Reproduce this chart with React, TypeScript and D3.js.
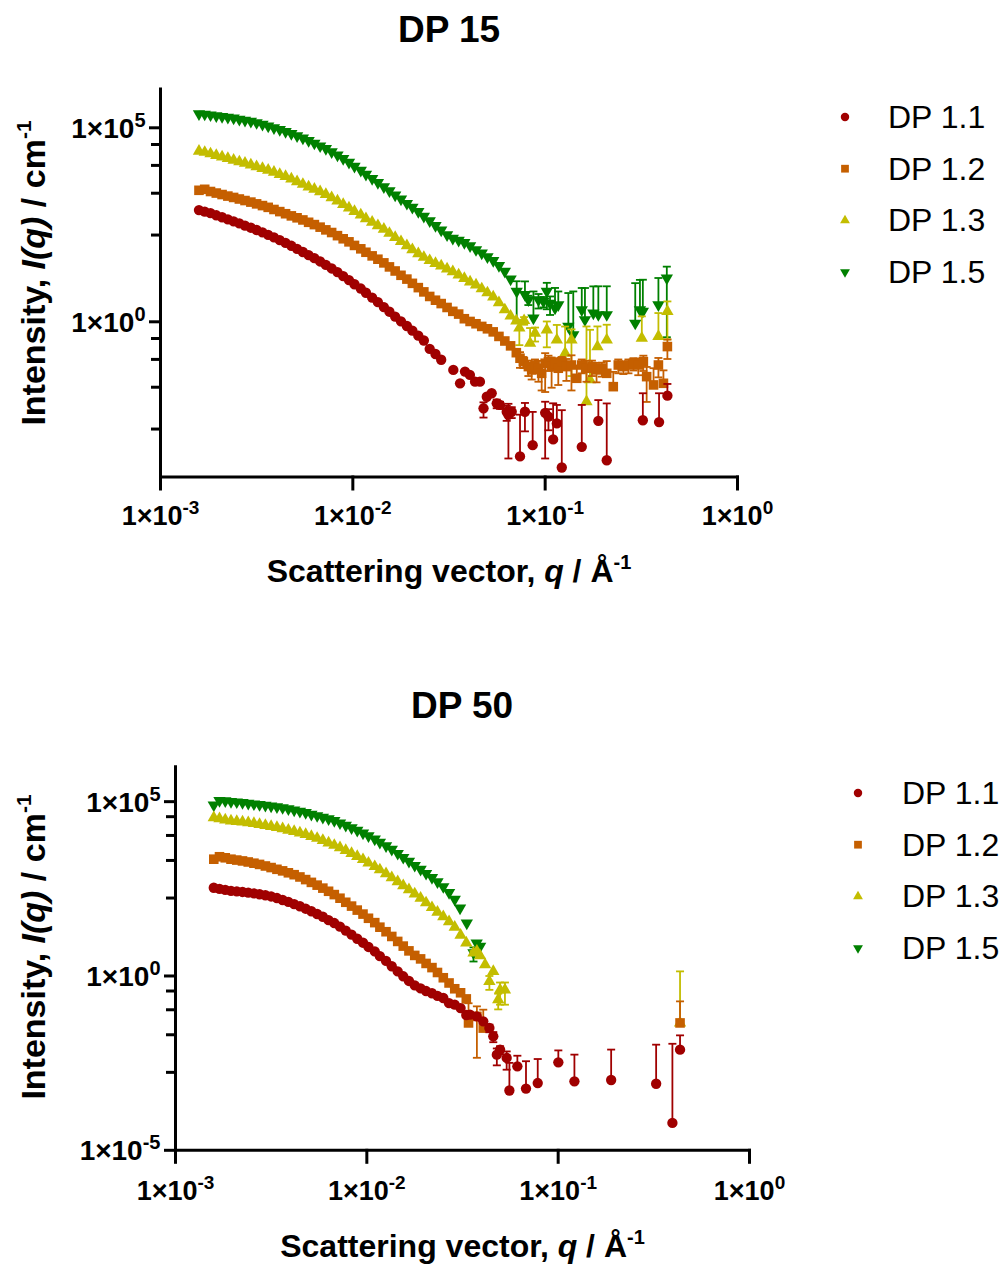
import React from "react";
import * as d3 from "d3";

const FONT = "'Liberation Sans', Arial, Helvetica, sans-serif";

const seriesNames = ["DP 1.1", "DP 1.2", "DP 1.3", "DP 1.5"];
const seriesColors = ["#A00000", "#C55F00", "#C3BD00", "#008000"];
const seriesShapes = ["circle", "square", "triangleUp", "triangleDown"];

// shared q grid (Å^-1) of the densely sampled part of every curve
const qGrid = [
  0.001585, 0.001698, 0.00182, 0.00195, 0.00209, 0.00224, 0.0024, 0.00257, 0.00275, 0.00295,
  0.00316, 0.00339, 0.00363, 0.00389, 0.00417, 0.00447, 0.00479, 0.00513, 0.0055, 0.00589,
  0.00631, 0.00676, 0.00724, 0.00776, 0.00832, 0.00891, 0.00955, 0.0102, 0.011, 0.0117,
  0.0126, 0.0135, 0.0145, 0.0155, 0.0166, 0.0178, 0.0191, 0.0204, 0.0219, 0.0234,
  0.0251, 0.0269, 0.0288, 0.0309, 0.0331, 0.0355, 0.038, 0.0407, 0.0437, 0.0468,
  0.0501, 0.0537, 0.0575, 0.0617, 0.0661, 0.0708,
];

// ---------- DP 15 ----------
const dp15_11 = [
  759, 692, 631, 556, 495, 437, 389, 343, 302, 266,
  232, 202, 174, 150, 127, 108, 91, 76, 63, 52.5,
  43.6, 35.9, 29.2, 23.7, 19.1, 15.1, 11.9, 9.3, 7.2, 5.6,
  4.2, 3.2, 2.4, 1.82, 1.36, 1.03, 0.78, 0.59, 0.44, 0.33,
  0.2, 0.148, 0.105,
];
const dp15_12 = [
  2450, 2600, 2280, 2080, 1905, 1738, 1603, 1462, 1334, 1216,
  1096, 989, 891, 785, 692, 610, 537, 479, 422, 367,
  320, 275, 234, 200, 166, 138, 115, 93, 76, 62,
  50, 41, 33, 26, 20.4, 15.8, 12.6, 9.8, 7.6, 5.9,
  4.5, 3.6, 2.95, 2.34, 1.86, 1.58, 1.2, 1.02, 0.89, 0.76,
  0.66, 0.55, 0.42, 0.32, 0.24, 0.16,
];
const dp15_13 = [
  2.51e4, 2.34e4, 2.14e4, 1.95e4, 1.78e4, 1.62e4, 1.46e4, 1.33e4, 1.22e4, 1.11e4,
  1.0e4, 9.0e3, 8.1e3, 7.2e3, 6.3e3, 5.6e3, 4.8e3, 4.1e3, 3.5e3, 3.0e3,
  2630, 2260, 1930, 1580, 1300, 1060, 861, 700, 569, 457,
  372, 302, 245, 191, 150, 117, 92, 72, 57, 46,
  38, 32, 27.5, 23, 19.5, 16.2, 13.2, 10.7, 8.9, 7.1,
  5.6, 4.4, 3.1, 2.04, 1.41, 1.05,
];
const dp15_15 = [
  2.29e5, 2.24e5, 2.14e5, 2.04e5, 1.95e5, 1.86e5, 1.78e5, 1.66e5, 1.55e5, 1.46e5,
  1.35e5, 1.23e5, 1.11e5, 1.0e5, 9.0e4, 8.0e4, 7.1e4, 6.2e4, 5.4e4, 4.7e4,
  4.0e4, 3.4e4, 2.9e4, 2.4e4, 1.97e4, 1.6e4, 1.29e4, 1.02e4, 8.0e3, 6.3e3,
  4.9e3, 3.85e3, 3.0e3, 2.37e3, 1.84e3, 1.45e3, 1.12e3, 890, 690, 525,
  400, 300, 230, 174, 141, 126, 110, 91, 72, 59,
  47, 38, 28, 20, 12.6,
];
// sparse high-q points: [q, I, error]
const dp15_11Tail = [
  [0.0333, 0.0575, 0], [0.0361, 0.026, 0], [0.0383, 0.052, 0], [0.0406, 0.0427, 0],
  [0.0432, 0.0287, 0], [0.0458, 0.0287, 0], [0.0478, 0.0059, 0.0025], [0.0497, 0.0117, 0],
  [0.0527, 0.0144, 0], [0.056, 0.0079, 0.002], [0.0582, 0.0072, 0.0015], [0.0631, 0.0048, 0.002],
  [0.0644, 0.004, 0.0037], [0.067, 0.0048, 0.0015], [0.074, 0.00034, 0.0037], [0.0785, 0.0048, 0.0033],
  [0.0861, 0.00066, 0.0041], [0.1, 0.0045, 0.0042], [0.104, 0.0036, 0.002], [0.11, 0.00093, 0.007],
  [0.115, 0.0024, 0.0048], [0.122, 0.000176, 0.0051], [0.155, 0.0006, 0.0066], [0.189, 0.0028, 0.0068],
  [0.209, 0.00027, 0.0076], [0.322, 0.0029, 0.0115], [0.391, 0.0026, 0.0118], [0.432, 0.0125, 0.0125],
];
const dp15_12Tail = [
  [0.074, 0.115, 0.05], [0.077, 0.094, 0.03], [0.0818, 0.07, 0.03], [0.0851, 0.0575, 0.025],
  [0.0885, 0.077, 0.03], [0.0923, 0.0635, 0.035], [0.0959, 0.047, 0.03], [0.1, 0.0855, 0.07],
  [0.104, 0.094, 0.04], [0.108, 0.07, 0.05], [0.1125, 0.0855, 0.03], [0.117, 0.0635, 0.04],
  [0.122, 0.094, 0.03], [0.129, 0.07, 0.04], [0.137, 0.077, 0.06], [0.146, 0.035, 0.04],
  [0.155, 0.077, 0.03], [0.164, 0.0635, 0.035], [0.175, 0.07, 0.03], [0.185, 0.0575, 0.03],
  [0.197, 0.0635, 0.025], [0.209, 0.047, 0.05], [0.226, 0.0213, 0.03], [0.24, 0.077, 0.03],
  [0.255, 0.07, 0.025], [0.271, 0.077, 0.03], [0.288, 0.0855, 0.03], [0.305, 0.077, 0.035],
  [0.324, 0.094, 0.04], [0.337, 0.0386, 0.03], [0.366, 0.0236, 0.04], [0.388, 0.077, 0.04],
  [0.412, 0.026, 0.03], [0.432, 0.23, 0.12],
];
const dp15_13Tail = [
  [0.0734, 0.69, 0.44], [0.0777, 1.08, 0.24], [0.0835, 0.28, 0.41], [0.0886, 0.51, 0.2],
  [0.102, 0.62, 0.4], [0.115, 0.34, 0.49], [0.127, 0.155, 0.6], [0.137, 0.34, 0.3],
  [0.164, 0.0087, 0.75], [0.171, 0.032, 0.59], [0.187, 0.23, 0.53], [0.209, 0.34, 0.5],
  [0.318, 0.38, 1.0], [0.388, 0.42, 1.26], [0.432, 1.85, 1.5],
];
const dp15_15Tail = [
  [0.0711, 6.1, 5], [0.0785, 5.0, 6], [0.0818, 3.7, 1], [0.0869, 1.25, 4.8],
  [0.0923, 3.7, 1.5], [0.098, 3.35, 1], [0.102, 6.1, 4], [0.106, 3.0, 1.5],
  [0.1125, 2.26, 5.2], [0.117, 2.75, 3.3], [0.132, 0.76, 4.75], [0.14, 0.46, 5.6],
  [0.155, 2.04, 5.4], [0.161, 1.13, 6.3], [0.178, 1.68, 6.5], [0.189, 1.52, 6.7],
  [0.209, 1.52, 6.7], [0.294, 0.92, 9], [0.311, 2.04, 10], [0.322, 1.85, 10.3],
  [0.388, 2.75, 10.7], [0.429, 13.4, 13],
];

// ---------- DP 50 ----------
const dp50_11 = [
  339, 316, 295, 275, 266, 257, 245, 234, 221, 207,
  191, 172, 151, 133, 115, 100, 85, 72, 60, 50,
  40, 33, 26, 20, 15.3, 11.7, 9.0, 6.8, 5.1, 3.7,
  2.7, 1.9, 1.35, 0.98, 0.72, 0.54, 0.44, 0.37, 0.32, 0.27,
  0.234, 0.166, 0.151, 0.12, 0.076,
];
const dp50_12 = [
  2239, 2630, 2455, 2239, 2113, 1995, 1862, 1718, 1585, 1429,
  1288, 1148, 1035, 912, 804, 692, 582, 484, 403, 331,
  269, 216, 170, 130, 101, 77.6, 59.6, 45.2, 33.9, 25.1,
  18.6, 13.6, 9.8, 7.2, 5.25, 3.89, 3.09, 2.29, 1.74, 1.26,
  0.89, 0.63, 0.43, 0.33, 0.22,
];
const dp50_13 = [
  3.47e4, 3.24e4, 2.99e4, 2.82e4, 2.72e4, 2.63e4, 2.51e4, 2.37e4, 2.24e4, 2.09e4,
  1.95e4, 1.82e4, 1.68e4, 1.53e4, 1.4e4, 1.27e4, 1.15e4, 1.01e4, 8.9e3, 7.7e3,
  6.6e3, 5.6e3, 4.8e3, 4.0e3, 3270, 2690, 2190, 1740, 1380, 1110,
  861, 661, 507, 389, 299, 226, 170, 126, 92, 68,
  50, 36, 25,
];
const dp50_15 = [
  7.94e4, 1.07e5, 1.05e5, 1.01e5, 9.8e4, 9.4e4, 9.0e4, 8.6e4, 8.2e4, 7.85e4,
  7.5e4, 7.1e4, 6.7e4, 6.2e4, 5.75e4, 5.3e4, 4.85e4, 4.35e4, 3.95e4, 3.55e4,
  3.2e4, 2.85e4, 2.45e4, 2.1e4, 1.78e4, 1.51e4, 1.26e4, 1.04e4, 8.4e3, 6.8e3,
  5.4e3, 4.27e3, 3.27e3, 2.51e3, 1.93e3, 1.48e3, 1.14e3, 871, 668, 501,
  363, 245, 158,
];
const dp50_11Tail = [
  [0.0346, 0.078, 0], [0.0375, 0.0697, 0], [0.0406, 0.05, 0], [0.0437, 0.0323, 0.008],
  [0.0458, 0.0186, 0.006], [0.0478, 0.00553, 0.0028], [0.0497, 0.0077, 0.002], [0.0538, 0.00445, 0.0024],
  [0.0556, 0.00052, 0.0027], [0.0612, 0.00256, 0.0026], [0.0679, 0.00059, 0.003], [0.0782, 0.00085, 0.0033],
  [0.1002, 0.00333, 0.004], [0.1216, 0.00095, 0.0046], [0.1892, 0.00104, 0.0067], [0.3251, 0.00081, 0.0099],
  [0.3954, 0.000061, 0.0113], [0.4335, 0.0077, 0.0121],
];
const dp50_12Tail = [
  [0.034, 0.045, 0.12], [0.0376, 0.0695, 0.065], [0.0406, 0.032, 0.076], [0.4335, 0.045, 0.142],
];
const dp50_13Tail = [
  [0.0309, 14.8, 0], [0.0331, 8.9, 0], [0.0361, 4.6, 0.6], [0.0376, 5.2, 0],
  [0.0391, 3.8, 0], [0.0415, 2.1, 0], [0.0437, 0.7, 0.3], [0.0458, 1.36, 0],
  [0.0486, 0.21, 0.1], [0.0497, 0.4, 0.25], [0.0527, 0.4, 0.25], [0.4335, 0.045, 1.31],
];
const dp50_15Tail = [
  [0.0307, 89, 0], [0.0333, 33, 0], [0.0361, 4.6, 2.0], [0.0375, 8.8, 0], [0.0391, 7.1, 0],
];

// axis ticks
const xTickValues = [1e-3, 1e-2, 1e-1, 1];
const xTickExps = ["-3", "-2", "-1", "0"];
const dp15YTicks = [1, 1e5];
const dp15YExps = ["0", "5"];
const dp50YTicks = [1e-5, 1, 1e5];
const dp50YExps = ["-5", "0", "5"];
const minorFactors = [2.8, 4.6, 6.4, 8.2]; // linear subdivisions of each 5-decade interval
const minorBases = [1e-10, 1e-5, 1, 1e5];

type Cfg = {
  title: string;
  titleX: number;
  titleY: number;
  xRange: [number, number];
  yRange: [number, number];
  yDomain: [number, number];
  yTicks: number[];
  yExps: string[];
  legendX: number;
  legendTextX: number;
  legendY0: number;
  xLabelY: number;
  xTitleY: number;
  yTitleY: number;
  dense: number[][];
  tails: number[][][];
};

function markerPath(shape: string, size: number) {
  if (shape === "circle") return d3.symbol(d3.symbolCircle, size)() as string;
  if (shape === "square") return d3.symbol(d3.symbolSquare, size)() as string;
  return d3.symbol(d3.symbolTriangle, size)() as string;
}

const markerSizes: Record<string, number> = { circle: 84, square: 92, triangleUp: 66, triangleDown: 66 };
const legendSizes: Record<string, number> = { circle: 56, square: 60, triangleUp: 42, triangleDown: 42 };

function Panel({ cfg }: { cfg: Cfg }) {
  const x = d3.scaleLog().domain([1e-3, 1]).range(cfg.xRange);
  const y = d3.scaleLog().domain(cfg.yDomain).range(cfg.yRange);
  const [yMin, yMax] = cfg.yDomain;
  const x0 = cfg.xRange[0];
  const x1 = cfg.xRange[1];
  const yBot = cfg.yRange[0];
  const yTop = cfg.yRange[1];
  const minors: number[] = [];
  minorBases.forEach((b) => minorFactors.forEach((f) => {
    const v = b * Math.pow(f, 5);
    if (v > yMin && v < yMax) minors.push(v);
  }));
  const order = [3, 2, 1, 0];
  const cx = (x0 + x1) / 2;

  return (
    <g>
      {/* data */}
      {order.map((si) => {
        const dense = cfg.dense[si];
        const pts = dense.map((v, i) => [qGrid[i], v, 0]).concat(cfg.tails[si]);
        const color = seriesColors[si];
        const shape = seriesShapes[si];
        const d = markerPath(shape, markerSizes[shape]);
        const rot = shape === "triangleDown" ? " rotate(180)" : "";
        return (
          <g key={si}>
            {pts.filter((p) => p[2] > 0).map((p, i) => {
              const px = x(p[0]);
              const yHi = y(Math.min(p[1] + p[2], yMax));
              const lowVal = p[1] - p[2];
              const hasLow = lowVal > 0;
              const yLo = hasLow ? y(Math.max(lowVal, yMin)) : y(p[1]);
              return (
                <g key={"e" + i} stroke={color} strokeWidth={1.8} fill="none">
                  <line x1={px} x2={px} y1={yHi} y2={yLo} />
                  <line x1={px - 4} x2={px + 4} y1={yHi} y2={yHi} />
                  {hasLow && lowVal > yMin && <line x1={px - 4} x2={px + 4} y1={yLo} y2={yLo} />}
                </g>
              );
            })}
            {pts.map((p, i) => (
              <path key={"m" + i} d={d} fill={color}
                transform={`translate(${x(p[0])},${y(p[1])})${rot}`} />
            ))}
          </g>
        );
      })}

      {/* axes */}
      <g stroke="#000" strokeWidth={3} strokeLinecap="square">
        <line x1={x0} x2={x0} y1={yTop} y2={yBot} />
        <line x1={x0} x2={x1} y1={yBot} y2={yBot} />
        {xTickValues.map((v) => (
          <line key={"xt" + v} x1={x(v)} x2={x(v)} y1={yBot} y2={yBot + 12} />
        ))}
        {cfg.yTicks.map((v) => (
          <line key={"yt" + v} x1={x0 - 10} x2={x0} y1={y(v)} y2={y(v)} />
        ))}
        {minors.map((v) => (
          <line key={"ym" + v} x1={x0 - 8} x2={x0} y1={y(v)} y2={y(v)} />
        ))}
      </g>

      {/* tick labels */}
      <g fontFamily={FONT} fontWeight="bold" fill="#000">
        {xTickValues.map((v, i) => (
          <text key={"xl" + v} x={x(v)} y={cfg.xLabelY} textAnchor="middle" fontSize={27}>
            <tspan>1×10</tspan>
            <tspan fontSize={19} dy={-11}>{xTickExps[i]}</tspan>
          </text>
        ))}
        {cfg.yTicks.map((v, i) => (
          <text key={"yl" + v} x={x0 - 15} y={y(v) + 10} textAnchor="end" fontSize={28}>
            <tspan>1×10</tspan>
            <tspan fontSize={20} dy={-11}>{cfg.yExps[i]}</tspan>
          </text>
        ))}
      </g>

      {/* titles */}
      <text x={cfg.titleX} y={cfg.titleY} textAnchor="middle" fontFamily={FONT} fontWeight="bold" fontSize={37}>
        {cfg.title}
      </text>
      <text x={cx} y={cfg.xTitleY} textAnchor="middle" fontFamily={FONT} fontWeight="bold" fontSize={32}>
        <tspan>{"Scattering vector, "}</tspan>
        <tspan fontStyle="italic">q</tspan>
        <tspan>{" / Å"}</tspan>
        <tspan fontSize={20} dy={-13}>-1</tspan>
      </text>
      <text transform={`translate(45,${cfg.yTitleY}) rotate(-90)`} textAnchor="middle"
        fontFamily={FONT} fontWeight="bold" fontSize={34}>
        <tspan>{"Intensity, "}</tspan>
        <tspan fontStyle="italic">I(q)</tspan>
        <tspan>{" / cm"}</tspan>
        <tspan fontSize={21} dy={-14}>-1</tspan>
      </text>

      {/* legend */}
      {seriesNames.map((name, i) => {
        const ly = cfg.legendY0 + i * 51.7;
        const shape = seriesShapes[i];
        const rot = shape === "triangleDown" ? " rotate(180)" : "";
        return (
          <g key={"lg" + i}>
            <path d={markerPath(shape, legendSizes[shape])} fill={seriesColors[i]}
              transform={`translate(${cfg.legendX},${ly})${rot}`} />
            <text x={cfg.legendTextX} y={ly + 11} fontFamily={FONT} fontSize={32} fill="#000">{name}</text>
          </g>
        );
      })}
    </g>
  );
}

const dp15Cfg: Cfg = {
  title: "DP 15", titleX: 449, titleY: 42,
  xRange: [160.5, 737.5], yRange: [477, 89], yDomain: [1e-4, 1e6],
  yTicks: dp15YTicks, yExps: dp15YExps,
  legendX: 845, legendTextX: 888, legendY0: 117,
  xLabelY: 525, xTitleY: 582, yTitleY: 273,
  dense: [dp15_11, dp15_12, dp15_13, dp15_15],
  tails: [dp15_11Tail, dp15_12Tail, dp15_13Tail, dp15_15Tail],
};

const dp50Cfg: Cfg = {
  title: "DP 50", titleX: 462, titleY: 718,
  xRange: [175.5, 749.5], yRange: [1150.3, 766.8], yDomain: [1e-5, 1e6],
  yTicks: dp50YTicks, yExps: dp50YExps,
  legendX: 858, legendTextX: 902, legendY0: 793,
  xLabelY: 1200, xTitleY: 1257, yTitleY: 947,
  dense: [dp50_11, dp50_12, dp50_13, dp50_15],
  tails: [dp50_11Tail, dp50_12Tail, dp50_13Tail, dp50_15Tail],
};

export default function App() {
  return (
    <svg width={1003} height={1266} viewBox="0 0 1003 1266"
      style={{ position: "absolute", left: 0, top: 0, background: "#fff" }}>
      <rect width={1003} height={1266} fill="#fff" />
      <Panel cfg={dp15Cfg} />
      <Panel cfg={dp50Cfg} />
    </svg>
  );
}
